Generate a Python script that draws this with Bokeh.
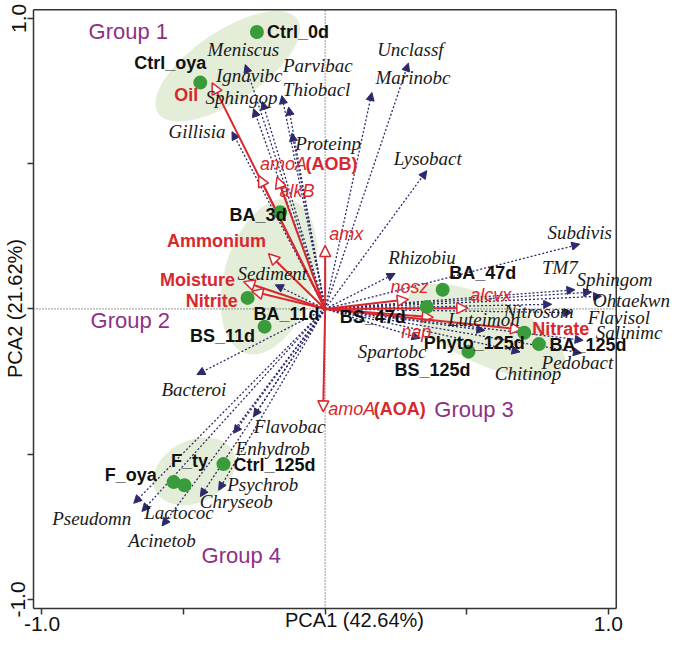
import math
from bokeh.plotting import figure
from bokeh.models import (ColumnDataSource, Range1d, FixedTicker, Arrow, NormalHead,
                          LabelSet)
from bokeh.core.properties import value
from bokeh.embed import file_html
from bokeh.resources import INLINE

# ---------------- data (PCA scores / loadings) ----------------
sample_names = ["Ctrl_0d", "Ctrl_oya", "BA_3d", "BA_11d", "BS_11d", "BA_47d", "BS_47d",
                "Phyto_125d", "BA_125d", "BS_125d", "Ctrl_125d", "F_oya", "F_ty"]
sample_pc1 = [-0.241, -0.441, -0.159, -0.274, -0.214, 0.415, 0.359, 0.703, 0.755, 0.506,
              -0.359, -0.535, -0.497]
sample_pc2 = [0.953, 0.779, 0.333, 0.038, -0.061, 0.066, 0.007, -0.082, -0.121, -0.147,
              -0.534, -0.596, -0.607]

species_names = ["Meniscus", "Ignavibc", "Sphingop", "Parvibac", "Thiobacl", "Gillisia",
                 "Proteinp", "Unclassf", "Marinobc", "Lysobact", "Subdivis", "Rhizobiu",
                 "TM7", "Sphingom", "Ohtaekwn", "Nitrosom", "Flavisol", "Luteimon",
                 "Salinimc", "Pedobact", "Chitinop", "Spartobc", "Bacteroi", "Sediment",
                 "Flavobac", "Enhydrob", "Psychrob", "Chryseob", "Lactococ", "Pseudomn",
                 "Acinetob"]
species_pc1 = [-0.282, -0.222, -0.253, -0.153, -0.129, -0.329, -0.117, 0.294, 0.165, 0.359,
               0.899, 0.247, 0.882, 0.941, 0.976, 0.800, 0.871, 0.564, 0.911, 0.905, 0.688,
               0.335, -0.453, -0.176, -0.253, -0.323, -0.376, -0.441, -0.647, -0.676, -0.576]
species_pc2 = [0.841, 0.714, 0.689, 0.734, 0.695, 0.610, 0.605, 0.846, 0.745, 0.476, 0.223,
               0.122, 0.066, 0.058, 0.044, 0.016, -0.013, -0.074, -0.108, -0.152, -0.148,
               -0.101, -0.226, 0.083, -0.371, -0.428, -0.624, -0.646, -0.697, -0.669, -0.747]

env_names = ["Oil", "amoA(AOB)", "alkB", "Ammonium", "Moisture", "Nitrite", "amx",
             "amoA(AOA)", "nosz", "alcvx", "nap", "Nitrate"]
env_pc1 = [-0.399, -0.235, -0.170, -0.200, -0.288, -0.259, 0.000, -0.007, 0.294, 0.504,
           0.382, 0.694]
env_pc2 = [0.778, 0.459, 0.454, 0.190, 0.094, 0.061, 0.218, -0.354, 0.033, 0.003, -0.029,
           -0.071]

group_names = ["Group 1", "Group 2", "Group 3", "Group 4"]
group_cx = [-0.344, -0.199, 0.570, -0.462]
group_cy = [0.835, 0.111, -0.076, -0.559]

x_ticks = [-1.0, -0.5, 0.0, 0.5, 1.0]
y_ticks = [-1.0, -0.5, 0.0, 0.5, 1.0]
x_title = "PCA1 (42.64%)"
y_title = "PCA2 (21.62%)"

# ---------------- layout / style (not data) ----------------
RED = "#d8282e"
NAVY = "#2c2a6b"
GREEN = "#3a9b3a"
PURPLE = "#8f2f86"
ELL = "#e3edd7"
AXC = "#333333"

sample_off = [(41, 0), (-30, -20), (-22, 3), (39, 16), (-42, 9), (40, -17), (-54, 10),
              (-50, 10), (49, 1), (-36, 18), (51, 1), (-43, -7), (5, -24)]
species_off = [(-2, -15), (-13, -26), (-12, -11), (36, -30), (28, -17), (-35, 0), (36, 10),
               (2, -14), (41, -15), (1, -12), (0, -12), (27, -16), (-15, -22), (23, -13),
               (30, 4), (-13, 7), (47, 5), (-1, -11), (46, -8), (-4, 9), (8, 22), (-28, 13),
               (-3, 15), (-3, -11), (36, 10), (39, 15), (44, -6), (36, 5), (37, 1), (-42, 15),
               (0, 15)]
env_off = {"Oil": [(-26, 12)], "amoA(AOB)": [(25, -12), (73, -12)], "alkB": [(20, 14)],
           "Ammonium": [(-52, -13)], "Moisture": [(-46, -2)], "Nitrite": [(-40, 10)],
           "amx": [(21, -12)], "amoA(AOA)": [(28.5, -3), (76.5, -3)], "nosz": [(1, -12)],
           "alcvx": [(23, -13)], "nap": [(-17, 15)], "Nitrate": [(39, -1)]}
ell_shape = [(168, 70, 34), (160, 89, 73.5), (171, 67, -25), (87, 62, 27)]
group_label_xy = [(-0.695, 0.956), (-0.688, -0.040), (0.526, -0.347), (-0.296, -0.848)]

W, H = 675, 633
BL, BT = 25, 8                 # left / top borders (px)
X0, X1 = -1.03, 1.028          # visible box
Y0, Y1 = -1.031, 1.03
XB_RIGHT = 615                 # canvas px where the box's right edge should sit
XR = X0 + (W - BL) * (X1 - X0) / (XB_RIGHT - BL)   # frame extends to canvas edge for labels
YT = Y1 + 0.004

p = figure(width=W, height=H, x_range=Range1d(X0, XR), y_range=Range1d(Y0, YT),
           output_backend="svg", toolbar_location=None,
           min_border_left=BL, min_border_right=0, min_border_top=BT, min_border_bottom=10)
p.grid.visible = False
p.background_fill_color = "white"
p.border_fill_color = "white"
p.outline_line_color = None

for ax in (p.xaxis[0], p.yaxis[0]):
    ax.axis_line_color = AXC
    ax.axis_line_width = 1.5
    ax.major_tick_line_color = AXC
    ax.major_tick_line_width = 1.5
    ax.major_tick_out = 6
    ax.major_tick_in = 0
    ax.minor_tick_line_color = None
    ax.major_label_text_font = "Liberation Sans"
    ax.major_label_text_font_size = "21px"
    ax.major_label_text_color = "#111111"
    ax.major_label_standoff = 2
    ax.axis_label_text_font = "Liberation Sans"
    ax.axis_label_text_font_style = "normal"
    ax.axis_label_text_font_size = "20px"
    ax.axis_label_text_color = "#111111"
p.yaxis.axis_label_standoff = -17
p.xaxis.axis_label_standoff = -25

p.xaxis.bounds = (X0, X1)
p.yaxis.bounds = (Y0, Y1)
p.xaxis.ticker = FixedTicker(ticks=x_ticks)
p.yaxis.ticker = FixedTicker(ticks=y_ticks)
p.xaxis.major_label_overrides = {t: ("%.1f" % t if abs(t) == 1.0 else "") for t in x_ticks}
p.yaxis.major_label_overrides = {t: ("%.1f" % t if abs(t) == 1.0 else "") for t in y_ticks}
p.yaxis.major_label_orientation = "vertical"
p.xaxis.axis_label = x_title
p.yaxis.axis_label = y_title

# box top / right edges
p.segment(x0=[X0, X1], y0=[Y1, Y0], x1=[X1, X1], y1=[Y1, Y1], line_color=AXC, line_width=1.5)

# group ellipses
ell_src = ColumnDataSource(dict(x=group_cx, y=group_cy,
                                w=[s[0] for s in ell_shape], h=[s[1] for s in ell_shape],
                                a=[s[2] for s in ell_shape]))
p.ellipse(x="x", y="y", width="w", height="h", angle="a", angle_units="deg",
          width_units="screen", height_units="screen", source=ell_src,
          fill_color=ELL, line_color=None, level="image")

# zero reference lines (inside the box)
p.segment(x0=[0.0, X0], y0=[Y0, 0.0], x1=[0.0, X1], y1=[Y1, 0.0], line_color=AXC,
          line_dash="1 2", line_width=1, level="underlay")

# species arrows
sp_src = ColumnDataSource(dict(x0=[0.0] * len(species_names), y0=[0.0] * len(species_names),
                               x1=species_pc1, y1=species_pc2))
p.add_layout(Arrow(end=NormalHead(size=8, fill_color=NAVY, line_color=NAVY, line_width=1),
                   x_start="x0", y_start="y0", x_end="x1", y_end="y1", source=sp_src,
                   line_color=NAVY, line_dash="2 2", line_width=1.3, level="underlay"))

# environmental arrows
env_src = ColumnDataSource(dict(x0=[0.0] * len(env_names), y0=[0.0] * len(env_names),
                                x1=env_pc1, y1=env_pc2))
p.add_layout(Arrow(end=NormalHead(size=11, fill_color="white", line_color=RED, line_width=1.5),
                   x_start="x0", y_start="y0", x_end="x1", y_end="y1", source=env_src,
                   line_color=RED, line_width=2, level="underlay"))

# sample points
p.scatter(x=sample_pc1, y=sample_pc2, size=14, fill_color=GREEN, line_color=None)

# sample labels
s_lab = ColumnDataSource(dict(x=sample_pc1, y=sample_pc2, t=sample_names,
                              dx=[o[0] for o in sample_off], dy=[-o[1] for o in sample_off]))
p.add_layout(LabelSet(x="x", y="y", text="t", x_offset="dx", y_offset="dy", source=s_lab,
                      text_align="center", text_baseline="middle",
                      text_font=value("Liberation Sans"), text_font_style="bold",
                      text_font_size="18px", text_color="#111111"))

# species labels
sp_lab = ColumnDataSource(dict(x=species_pc1, y=species_pc2, t=species_names,
                               dx=[o[0] for o in species_off], dy=[-o[1] for o in species_off]))
p.add_layout(LabelSet(x="x", y="y", text="t", x_offset="dx", y_offset="dy", source=sp_lab,
                      text_align="center", text_baseline="middle",
                      text_font=value("Liberation Serif"), text_font_style="italic",
                      text_font_size="19px", text_color="#1a1a1a"))

# environmental labels (gene names italic, others bold)
it = dict(x=[], y=[], t=[], dx=[], dy=[])
bd = dict(x=[], y=[], t=[], dx=[], dy=[])
for name, ex, ey in zip(env_names, env_pc1, env_pc2):
    offs = env_off[name]
    if "(" in name:
        k = name.index("(")
        parts = [(name[:k], it, offs[0]), (name[k:], bd, offs[1])]
    elif name[0].islower():
        parts = [(name, it, offs[0])]
    else:
        parts = [(name, bd, offs[0])]
    for txt, d, o in parts:
        d["x"].append(ex); d["y"].append(ey); d["t"].append(txt)
        d["dx"].append(o[0]); d["dy"].append(-o[1])
p.add_layout(LabelSet(x="x", y="y", text="t", x_offset="dx", y_offset="dy",
                      source=ColumnDataSource(it), text_align="center", text_baseline="middle",
                      text_font=value("Liberation Sans"), text_font_style="italic",
                      text_font_size="18px", text_color=RED))
p.add_layout(LabelSet(x="x", y="y", text="t", x_offset="dx", y_offset="dy",
                      source=ColumnDataSource(bd), text_align="center", text_baseline="middle",
                      text_font=value("Liberation Sans"), text_font_style="bold",
                      text_font_size="18px", text_color=RED))

# group labels
g_src = ColumnDataSource(dict(x=[g[0] for g in group_label_xy], y=[g[1] for g in group_label_xy],
                              t=group_names))
p.add_layout(LabelSet(x="x", y="y", text="t", source=g_src, text_align="center",
                      text_baseline="middle", text_font=value("Liberation Sans"),
                      text_font_size="22px", text_color=PURPLE))

open("out.html", "w").write(file_html(p, INLINE))
